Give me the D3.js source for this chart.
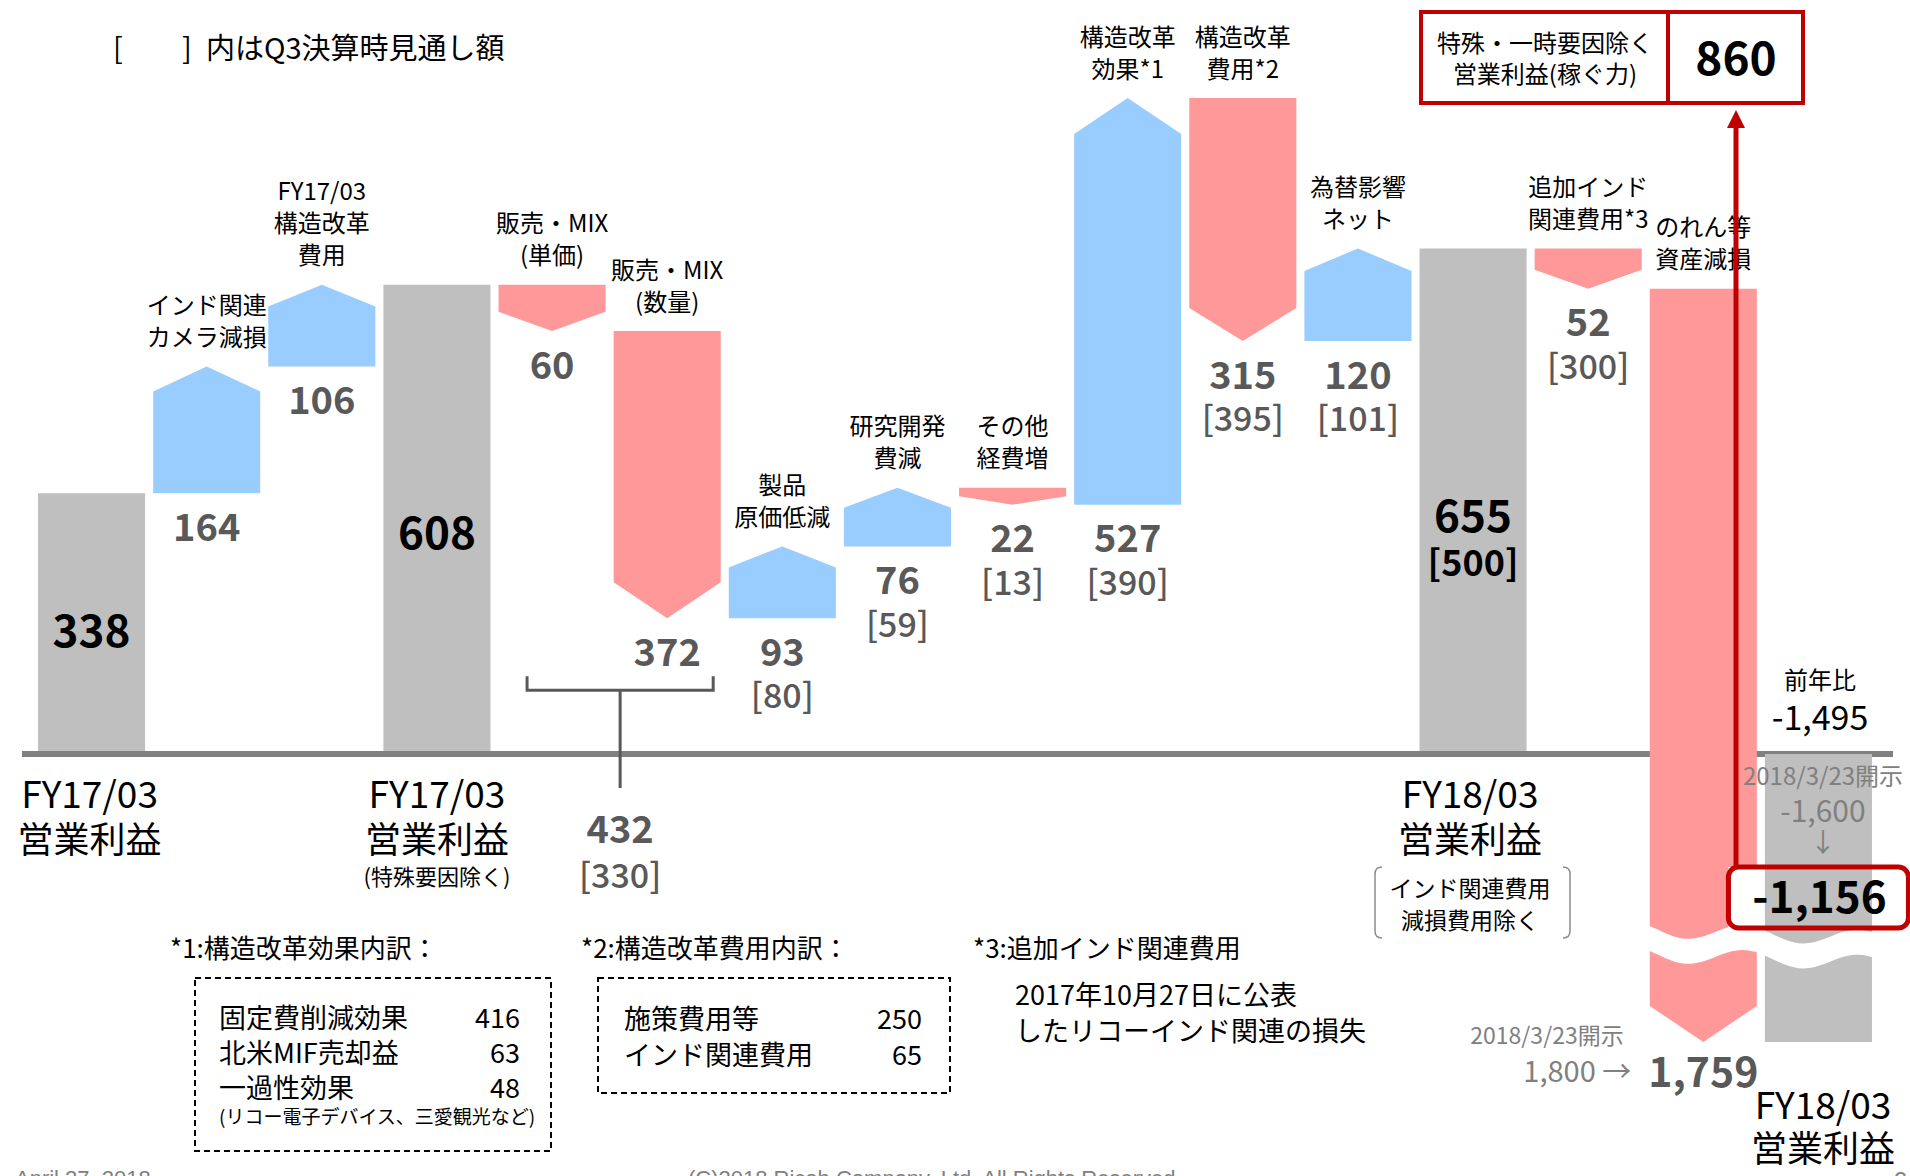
<!DOCTYPE html>
<html>
<head>
<meta charset="utf-8">
<script src="https://cdn.jsdelivr.net/npm/d3@7"></script>
<style>
body { margin: 0; background: #fff; }
svg { display: block; }
</style>
</head>
<body>
<div id="chart"></div>
<script>
// waterfall steps (FY17/03 -> FY18/03 operating profit, 億円)
var kinds = ["total","up","up","total","down","down","up","up","down","up","down","up","total","down","down","total"];
var values = [338, 164, 106, 608, 60, 372, 93, 76, 22, 527, 315, 120, 655, 52, 1759, -1156];
var forecasts = [null, null, null, null, null, null, 80, 59, 13, 390, 395, 101, 500, 300, null, null];
var topLabels = [
    [], ["インド関連","カメラ減損"], ["FY17/03","構造改革","費用"], [],
    ["販売・MIX","(単価)"], ["販売・MIX","(数量)"], ["製品","原価低減"], ["研究開発","費減"],
    ["その他","経費増"], ["構造改革","効果*1"], ["構造改革","費用*2"], ["為替影響","ネット"],
    [], ["追加インド","関連費用*3"], ["のれん等","資産減損"], []
];
var mixForecast = 330;             // [330] for 販売・MIX total
var earningPower = 860;            // 特殊・一時要因除く営業利益
var yoyChange = -1495;
var prevForecastTotal = -1600;     // 2018/3/23開示
var prevForecastImpair = 1800;     // 2018/3/23開示
var note1Items = ["固定費削減効果","北米MIF売却益","一過性効果"];
var note1Values = [416, 63, 48];
var note2Items = ["施策費用等","インド関連費用"];
var note2Values = [250, 65];

var JP = "'Noto Sans CJK JP', 'Noto Sans', sans-serif" ;
var W = 1910, H = 1176 ;
//plain hyphen as minus sign, like the slide
var fmt = d3.formatLocale({decimal: ".", thousands: ",", grouping: [3], currency: ["", ""], minus: "-"}).format(",") ;

var svg = d3.select("#chart").append("svg")
    .attr("width", W)
    .attr("height", H) ;

// y center based text helper
function txt(g, xx, yy, s, size, opt)
{
    opt = opt || {} ;
    return g.append("text")
	.attr("x", xx)
	.attr("y", yy + 0.36*size)
	.attr("font-family", opt.family || JP)
	.attr("font-size", size)
	.attr("font-weight", opt.weight || "normal")
	.attr("fill", opt.fill || "#000")
	.attr("text-anchor", opt.anchor || "middle")
	.text(s) ;
}

// running totals
var run = 0 ;
var rows = values.map(function(v, i) {
    var s, e ;
    if(kinds[i] === "total") { s = 0 ; e = v ; }
    else if(kinds[i] === "up") { s = run ; e = run + v ; }
    else { s = run ; e = run - v ; }
    run = e ;
    return {i: i, kind: kinds[i], v: v, s: s, e: e, f: forecasts[i]} ;
}) ;
var ends = rows.map(function(r) { return r.e ; }) ;

var x = d3.scaleBand()
    .domain(d3.range(values.length))
    .range([34, 1876])
    .paddingInner(0.07)
    .paddingOuter(0.035) ;

// broken axis below zero : compressed negative part
var y = d3.scaleLinear()
    .domain([d3.min(ends), 0, d3.max(ends)])
    .range([1042, 754, 98]) ;

var colors = {total: "#BFBFBF", up: "#99CCFF", down: "#FF9999"} ;

function cx(i) { return x(i) + x.bandwidth()/2 ; }

function shape(r)
{
    var x0 = x(r.i), x1 = x0 + x.bandwidth(), xc = (x0 + x1)/2 ;
    var ya = y(r.s), yb = y(r.e), len = Math.abs(yb - ya) ;
    var h = Math.min(36, 16 + 0.07*len, 0.5*len) ;
    var p = d3.path() ;
    if(r.kind === "total")
    {
	p.rect(x0, Math.min(ya, yb), x1 - x0, len) ;
	return p.toString() ;
    }
    if(r.kind === "up")
    {
	p.moveTo(x0, ya) ; p.lineTo(x0, yb + h) ; p.lineTo(xc, yb) ;
	p.lineTo(x1, yb + h) ; p.lineTo(x1, ya) ;
    }
    else
    {
	p.moveTo(x0, ya) ; p.lineTo(x1, ya) ; p.lineTo(x1, yb - h) ;
	p.lineTo(xc, yb) ; p.lineTo(x0, yb - h) ;
    }
    p.closePath() ;
    return p.toString() ;
}

var crossing = function(r) { return r.kind !== "total" && r.s > 0 && r.e < 0 ; } ;
var negTotal = function(r) { return r.kind === "total" && r.e < 0 ; } ;

// marks that stay above zero
svg.append("g").selectAll("path")
    .data(rows.filter(function(r) { return !crossing(r) && !negTotal(r) ; }))
    .join("path")
    .attr("d", shape)
    .attr("fill", function(r) { return colors[r.kind] ; }) ;

// baseline
svg.append("line")
    .attr("x1", 22).attr("x2", 1893)
    .attr("y1", y(0)).attr("y2", y(0))
    .attr("stroke", "#808080")
    .attr("stroke-width", 6) ;

// arrows crossing the baseline
svg.append("g").selectAll("path")
    .data(rows.filter(crossing))
    .join("path")
    .attr("d", shape)
    .attr("fill", function(r) { return colors[r.kind] ; }) ;

// -1,156 box background
var fin = rows[rows.length - 1] ;
var boxX = cx(fin.i) - 90, boxY = 867 ;
svg.append("rect")
    .attr("x", boxX).attr("y", boxY)
    .attr("width", 180).attr("height", 61)
    .attr("fill", "#fff") ;

// negative total bar
svg.append("g").selectAll("path")
    .data(rows.filter(negTotal))
    .join("path")
    .attr("d", shape)
    .attr("fill", colors.total) ;

// wavy break across the two long marks
var brk = rows.filter(function(r) { return crossing(r) || negTotal(r) ; }) ;
var bx0 = x(brk[0].i) - 3, bx1 = x(brk[brk.length-1].i) + x.bandwidth() + 3 ;
var by = y(0) + 0.65*(y(d3.min(ends)) - y(0)) ;
var wave = d3.range(bx0, bx1 + 1, 4).map(function(xx) {
    return [xx, by + 8*Math.sin(2*Math.PI*(xx - bx0)/x.step() - 0.6) + 0.04*(xx - bx0)] ;
}) ;
var band = wave.map(function(p) { return [p[0], p[1] - 12] ; })
    .concat(wave.slice().reverse().map(function(p) { return [p[0], p[1] + 13] ; })) ;
svg.append("path")
    .attr("d", d3.line().curve(d3.curveLinearClosed)(band))
    .attr("fill", "#fff") ;

// labels above each change
var gLab = svg.append("g") ;
rows.forEach(function(r) {
    var lines = topLabels[r.i] ;
    var top = Math.min(y(r.s), y(r.e)) ;
    lines.forEach(function(s, j) {
	txt(gLab, cx(r.i), top - 29 - (lines.length - 1 - j)*32, s, 24) ;
    }) ;
}) ;

// values
rows.forEach(function(r) {
    if(r.kind === "total")
    {
	if(r.e < 0) return ;
	var t = y(r.e), h = y(0) - t ;
	var c = t + 0.53*h ;
	txt(gLab, cx(r.i), c, fmt(r.v), 44, {weight: "bold"}) ;
	if(r.f != null)
	    txt(gLab, cx(r.i), c + 47, "[" + fmt(r.f) + "]", 36, {weight: "bold"}) ;
	return ;
    }
    var low = Math.max(y(r.s), y(r.e)) ;
    var big = r.e < 0 ;
    txt(gLab, cx(r.i), low + (big ? 30 : 34), fmt(r.v), big ? 41 : 38, {weight: "bold", fill: "#595959"}) ;
    if(r.f != null)
	txt(gLab, cx(r.i), low + 78, "[" + fmt(r.f) + "]", 34, {weight: "500", fill: "#595959"}) ;
}) ;

// bracket joining the two 販売・MIX steps
var m1 = rows[4], m2 = rows[5] ;
var mixLow = Math.max(y(m1.e), y(m2.e)) + 34 ;
var bl = cx(m1.i) - 25, br = cx(m2.i) + 46, bm = (bl + br)/2 ;
svg.append("path")
    .attr("d", "M" + bl + "," + (mixLow + 24) + "V" + (mixLow + 38) + "H" + br + "V" + (mixLow + 24)
	  + "M" + bm + "," + (mixLow + 38) + "V" + 788)
    .attr("fill", "none")
    .attr("stroke", "#595959")
    .attr("stroke-width", 3) ;
txt(svg, bm, 829, fmt(m1.v + m2.v), 38, {weight: "bold", fill: "#595959"}) ;
txt(svg, bm, 876, "[" + mixForecast + "]", 34, {weight: "500", fill: "#595959"}) ;

// category labels under the axis
txt(svg, cx(0) - 2, 795, "FY17/03", 37) ;
txt(svg, cx(0) - 2, 840, "営業利益", 36) ;
txt(svg, cx(3), 795, "FY17/03", 37) ;
txt(svg, cx(3), 840, "営業利益", 36) ;
txt(svg, cx(3), 877, "(特殊要因除く)", 22) ;
txt(svg, cx(12) - 3, 795, "FY18/03", 37) ;
txt(svg, cx(12) - 3, 840, "営業利益", 36) ;
txt(svg, cx(12) - 3, 889, "インド関連費用", 23) ;
txt(svg, cx(12) - 3, 921, "減損費用除く", 23) ;
svg.append("path")
    .attr("d", "M1382,867 Q1375,867 1375,874 V931 Q1375,938 1382,938"
	  + " M1563,867 Q1570,867 1570,874 V931 Q1570,938 1563,938")
    .attr("fill", "none")
    .attr("stroke", "#8c8c8c")
    .attr("stroke-width", 1.5) ;
txt(svg, 1823, 1106, "FY18/03", 37) ;
txt(svg, 1823, 1149, "営業利益", 36) ;

// right-side annotations
txt(svg, 1820, 680, "前年比", 24) ;
txt(svg, 1820, 718, fmt(yoyChange), 34) ;
txt(svg, 1823, 776, "2018/3/23開示", 24, {fill: "#808080"}) ;
txt(svg, 1823, 811, fmt(prevForecastTotal), 30, {fill: "#808080"}) ;
txt(svg, 1823, 843, "↓", 26, {fill: "#808080"}) ;

svg.append("rect")
    .attr("x", boxX).attr("y", boxY)
    .attr("width", 180).attr("height", 61)
    .attr("rx", 10)
    .attr("fill", "none")
    .attr("stroke", "#C00000")
    .attr("stroke-width", 5) ;
txt(svg, cx(fin.i) + 1, boxY + 30, fmt(fin.v), 44, {weight: "bold"}) ;

var imp = rows[14] ;
var impY = y(imp.e) + 30 ;
txt(svg, 1547, impY - 36, "2018/3/23開示", 23, {fill: "#808080"}) ;
txt(svg, cx(imp.i) - 72, impY, fmt(prevForecastImpair) + " →", 29, {fill: "#808080", anchor: "end"}) ;

// earning power box
svg.append("rect")
    .attr("x", 1421).attr("y", 12)
    .attr("width", 382).attr("height", 91)
    .attr("fill", "#fff")
    .attr("stroke", "#C00000")
    .attr("stroke-width", 4) ;
svg.append("line")
    .attr("x1", 1668).attr("x2", 1668)
    .attr("y1", 12).attr("y2", 103)
    .attr("stroke", "#C00000")
    .attr("stroke-width", 4) ;
txt(svg, 1545, 43, "特殊・一時要因除く", 24) ;
txt(svg, 1545, 74, "営業利益(稼ぐ力)", 24) ;
txt(svg, 1736, 58, fmt(earningPower), 46, {weight: "bold"}) ;

// red arrow from -1,156 up to 860
svg.append("line")
    .attr("x1", 1736).attr("x2", 1736)
    .attr("y1", boxY).attr("y2", 126)
    .attr("stroke", "#C00000")
    .attr("stroke-width", 5) ;
svg.append("path")
    .attr("d", "M1727,128 L1745,128 L1736,110 Z")
    .attr("fill", "#C00000") ;

// title
txt(svg, 113, 49, "[", 29, {anchor: "start"}) ;
txt(svg, 182, 49, "]", 29, {anchor: "start"}) ;
txt(svg, 206, 49, "内はQ3決算時見通し額", 29, {anchor: "start"}) ;

// footnotes
var gN = svg.append("g") ;
txt(gN, 170, 949, "*1:構造改革効果内訳：", 26, {anchor: "start"}) ;
gN.append("rect")
    .attr("x", 195).attr("y", 978).attr("width", 356).attr("height", 173)
    .attr("fill", "none").attr("stroke", "#000").attr("stroke-width", 2)
    .attr("stroke-dasharray", "6,4") ;
note1Items.forEach(function(s, j) {
    txt(gN, 219, 1018 + j*35, s, 27, {anchor: "start"}) ;
    txt(gN, 520, 1018 + j*35, note1Values[j], 27, {anchor: "end"}) ;
}) ;
txt(gN, 219, 1117, "(リコー電子デバイス、三愛観光など)", 19, {anchor: "start"}) ;

txt(gN, 581, 949, "*2:構造改革費用内訳：", 26, {anchor: "start"}) ;
gN.append("rect")
    .attr("x", 598).attr("y", 978).attr("width", 352).attr("height", 115)
    .attr("fill", "none").attr("stroke", "#000").attr("stroke-width", 2)
    .attr("stroke-dasharray", "6,4") ;
note2Items.forEach(function(s, j) {
    txt(gN, 624, 1019 + j*36, s, 27, {anchor: "start"}) ;
    txt(gN, 922, 1019 + j*36, note2Values[j], 27, {anchor: "end"}) ;
}) ;

txt(gN, 973, 949, "*3:追加インド関連費用", 26, {anchor: "start"}) ;
txt(gN, 1015, 995, "2017年10月27日に公表", 27, {anchor: "start"}) ;
txt(gN, 1015, 1031, "したリコーインド関連の損失", 27, {anchor: "start"}) ;

// footer (cut by the slide edge, as in the original)
svg.append("text").attr("x", 15).attr("y", 1186)
    .attr("font-family", "'Liberation Sans', sans-serif").attr("font-size", 22)
    .attr("fill", "#808080").text("April 27, 2018") ;
svg.append("text").attr("x", 688).attr("y", 1186)
    .attr("font-family", "'Liberation Sans', sans-serif").attr("font-size", 22)
    .attr("fill", "#808080").text("(C)2018 Ricoh Company, Ltd. All Rights Reserved.") ;
svg.append("text").attr("x", 1893).attr("y", 1190)
    .attr("font-family", "'Liberation Sans', sans-serif").attr("font-size", 26)
    .attr("fill", "#808080").text("6") ;
</script>
</body>
</html>
